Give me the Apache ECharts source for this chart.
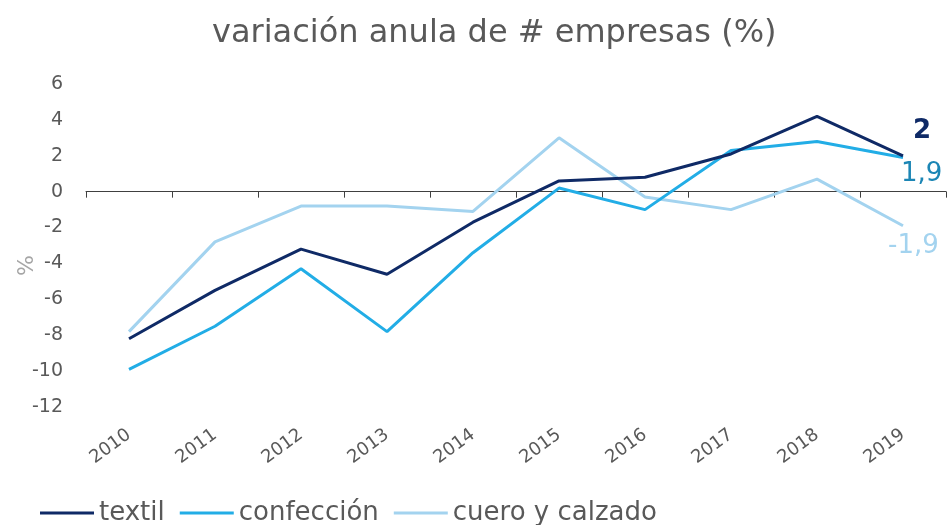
<!DOCTYPE html>
<html>
<head>
<meta charset="utf-8">
<script src="https://cdn.jsdelivr.net/npm/echarts@6/dist/echarts.min.js"></script>
<style>
  html, body { margin: 0; padding: 0; background: #fff; }
  #chart { width: 947px; height: 525px; }
</style>
</head>
<body>
<div id="chart"></div>
<script>
const years = ['2010', '2011', '2012', '2013', '2014', '2015', '2016', '2017', '2018', '2019']
const textil = [-8.2, -5.5, -3.2, -4.6, -1.7, 0.6, 0.8, 2.1, 4.2, 2.0]
const confeccion = [-9.9, -7.5, -4.3, -7.8, -3.4, 0.2, -1.0, 2.3, 2.8, 1.9]
const cueroCalzado = [-7.8, -2.8, -0.8, -0.8, -1.1, 3.0, -0.3, -1.0, 0.7, -1.9]

const font = '"DejaVu Sans", sans-serif'
const grey = '#595959'

// value at the end of each line, comma decimal like the original
function endLabel(color, offset, weight) {
  return {
    show: true,
    offset: offset,
    color: color,
    fontSize: 26,
    fontFamily: font,
    fontWeight: weight,
    formatter: (p) => {
      const v = Array.isArray(p.value) ? p.value[p.value.length - 1] : p.value
      return Number.isInteger(v) ? String(v) : String(v).replace('.', ',')
    },
  }
}

const chart = echarts.init(document.getElementById('chart'))
chart.setOption({
  backgroundColor: '#fff',
  animation: false,
  title: {
    text: 'variación anula de # empresas (%)',
    left: 207,
    top: 13,
    textStyle: { color: grey, fontSize: 32, fontWeight: 'normal', fontFamily: font },
  },
  legend: {
    left: 35,
    top: 495,
    icon: 'rect',
    itemWidth: 54,
    itemHeight: 3,
    itemGap: 15,
    textStyle: { color: grey, fontSize: 26, fontFamily: font },
    data: ['textil', 'confección', 'cuero y calzado'],
  },
  grid: { left: 86, right: 1, top: 84, bottom: 118, outerBoundsMode: 'none', containLabel: false },
  xAxis: [
    {
      type: 'category',
      data: years,
      axisLine: { onZero: true, lineStyle: { color: '#404040', width: 1 } },
      axisTick: { show: true, length: 6, lineStyle: { color: '#404040' } },
      axisLabel: { show: false },
    },
    {
      type: 'category',
      data: years,
      position: 'bottom',
      axisLine: { show: false, onZero: false },
      axisTick: { show: false },
      axisLabel: { rotate: 36, margin: 26, color: grey, fontSize: 18, fontFamily: font },
    },
  ],
  yAxis: {
    type: 'value',
    min: -12,
    max: 6,
    interval: 2,
    name: '%',
    nameLocation: 'middle',
    nameGap: 48,
    nameMoveOverlap: false,
    nameTextStyle: { color: '#a6a6a6', fontSize: 22, fontFamily: font, padding: [0, 40, 0, 0] },
    axisLine: { show: false },
    axisTick: { show: false },
    splitLine: { show: false },
    axisLabel: { color: grey, fontSize: 19, fontFamily: font, margin: 23 },
  },
  series: [
    {
      name: 'textil',
      type: 'line',
      data: textil,
      symbol: 'none',
      color: '#0f2a66',
      lineStyle: { width: 3 },
      endLabel: endLabel('#0f2a66', [2, -25], 'bold'),
      z: 4,
    },
    {
      name: 'confección',
      type: 'line',
      data: confeccion,
      symbol: 'none',
      color: '#22ade6',
      lineStyle: { width: 3 },
      endLabel: endLabel('#1c86b5', [-10, 17], 'normal'),
      z: 3,
    },
    {
      name: 'cuero y calzado',
      type: 'line',
      data: cueroCalzado,
      symbol: 'none',
      color: '#a3d3ef',
      lineStyle: { width: 3 },
      endLabel: endLabel('#a3d3ef', [-23, 20], 'normal'),
      z: 2,
    },
  ],
})
</script>
</body>
</html>
